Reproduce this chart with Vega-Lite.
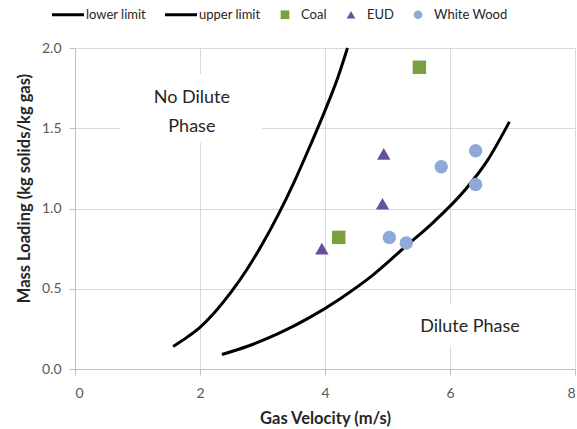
{
  "$schema": "https://vega.github.io/schema/vega-lite/v6.json",
  "autosize": "none",
  "width": 500,
  "height": 321,
  "padding": {"left": 75, "top": 48, "right": 2, "bottom": 60},
  "background": "white",
  "config": {
    "font": "Lato",
    "view": {"stroke": null},
    "axis": {
      "labelFont": "Lato", "labelFontSize": 14, "labelColor": "#595959",
      "titleFont": "Lato", "titleFontSize": 16.5, "titleFontWeight": "bold", "titleColor": "#262626",
      "domainColor": "#bfbfbf", "tickColor": "#bfbfbf", "tickSize": 6,
      "gridColor": "#d9d9d9", "gridWidth": 1
    }
  },
  "datasets": {
    "curves": [
      {"curve": "lower limit", "v": 1.57, "m": 0.14},
      {"curve": "lower limit", "v": 1.8, "m": 0.2},
      {"curve": "lower limit", "v": 2.0, "m": 0.26},
      {"curve": "lower limit", "v": 2.25, "m": 0.36},
      {"curve": "lower limit", "v": 2.5, "m": 0.48},
      {"curve": "lower limit", "v": 2.75, "m": 0.62},
      {"curve": "lower limit", "v": 3.0, "m": 0.78},
      {"curve": "lower limit", "v": 3.25, "m": 0.96},
      {"curve": "lower limit", "v": 3.5, "m": 1.16},
      {"curve": "lower limit", "v": 3.75, "m": 1.38},
      {"curve": "lower limit", "v": 4.0, "m": 1.61},
      {"curve": "lower limit", "v": 4.2, "m": 1.81},
      {"curve": "lower limit", "v": 4.36, "m": 2.0},
      {"curve": "upper limit", "v": 2.35, "m": 0.09},
      {"curve": "upper limit", "v": 2.75, "m": 0.14},
      {"curve": "upper limit", "v": 3.25, "m": 0.22},
      {"curve": "upper limit", "v": 3.75, "m": 0.32},
      {"curve": "upper limit", "v": 4.25, "m": 0.44},
      {"curve": "upper limit", "v": 4.75, "m": 0.58},
      {"curve": "upper limit", "v": 5.25, "m": 0.75},
      {"curve": "upper limit", "v": 5.75, "m": 0.92},
      {"curve": "upper limit", "v": 6.25, "m": 1.12},
      {"curve": "upper limit", "v": 6.6, "m": 1.3},
      {"curve": "upper limit", "v": 6.95, "m": 1.54}
    ],
    "points": [
      {"series": "Coal", "v": 5.51, "m": 1.88},
      {"series": "Coal", "v": 4.22, "m": 0.82},
      {"series": "EUD", "v": 3.95, "m": 0.75},
      {"series": "EUD", "v": 4.92, "m": 1.03},
      {"series": "EUD", "v": 4.94, "m": 1.34},
      {"series": "White Wood", "v": 5.03, "m": 0.82},
      {"series": "White Wood", "v": 5.3, "m": 0.785},
      {"series": "White Wood", "v": 5.86, "m": 1.26},
      {"series": "White Wood", "v": 6.41, "m": 1.36},
      {"series": "White Wood", "v": 6.41, "m": 1.15}
    ],
    "boxes": [
      {"x1": 0.72, "x2": 3.0, "y1": 1.41, "y2": 1.84},
      {"x1": 5.3, "x2": 7.3, "y1": 0.14, "y2": 0.41}
    ],
    "labels": [
      {"v": 1.87, "m": 1.69, "label": "No Dilute"},
      {"v": 1.87, "m": 1.51, "label": "Phase"},
      {"v": 6.32, "m": 0.26, "label": "Dilute Phase"}
    ]
  },
  "layer": [
    {
      "data": {"name": "boxes"},
      "mark": {"type": "rect", "fill": "white"},
      "encoding": {
        "x": {"field": "x1", "type": "quantitative", "scale": {"domain": [0, 8]},
              "axis": {"title": "Gas Velocity (m/s)", "values": [0, 2, 4, 6, 8], "format": "d", "labelPadding": 11, "titlePadding": 10}},
        "x2": {"field": "x2"},
        "y": {"field": "y1", "type": "quantitative", "scale": {"domain": [0, 2]},
              "axis": {"title": "Mass Loading (kg solids/kg gas)", "values": [0, 0.5, 1, 1.5, 2], "format": ".1f", "labelPadding": 8, "titlePadding": 9, "titleY": 140}},
        "y2": {"field": "y2"}
      }
    },
    {
      "data": {"name": "curves"},
      "mark": {"type": "line", "stroke": "black", "strokeWidth": 3, "interpolate": "monotone"},
      "encoding": {
        "x": {"field": "v", "type": "quantitative"},
        "y": {"field": "m", "type": "quantitative"},
        "detail": {"field": "curve"}
      }
    },
    {
      "data": {"name": "points"},
      "mark": {"type": "point", "filled": true, "opacity": 1, "size": 180},
      "encoding": {
        "x": {"field": "v", "type": "quantitative"},
        "y": {"field": "m", "type": "quantitative"},
        "color": {
          "field": "series", "type": "nominal",
          "scale": {"domain": ["lower limit", "upper limit", "Coal", "EUD", "White Wood"],
                    "range": ["#000000", "#000000", "#7a9f3f", "#6a4f9c", "#8eaadb"]},
          "legend": {
            "title": null, "orient": "none", "direction": "horizontal",
            "legendX": -23, "legendY": -40,
            "labelOffset": 2, "columnPadding": 12,
            "labelFont": "Lato", "labelFontSize": 13, "labelColor": "#262626",
            "symbolOpacity": 1,
            "encode": {
              "symbols": {
                "update": {
                  "shape": {"signal": "indexof(['lower limit','upper limit'], datum.value) >= 0 ? 'stroke' : datum.value === 'Coal' ? 'square' : datum.value === 'EUD' ? 'triangle-up' : 'circle'"},
                  "size": {"signal": "indexof(['lower limit','upper limit'], datum.value) >= 0 ? 1024 : 75"},
                  "stroke": {"signal": "indexof(['lower limit','upper limit'], datum.value) >= 0 ? '#000000' : 'transparent'"},
                  "strokeWidth": {"signal": "indexof(['lower limit','upper limit'], datum.value) >= 0 ? 3 : 0"},
                  "x": {"signal": "indexof(['lower limit','upper limit'], datum.value) >= 0 ? 16 : 12"}
                }
              },
              "labels": {
                "update": {
                  "x": {"signal": "indexof(['lower limit','upper limit'], datum.value) >= 0 ? 34 : 28"}
                }
              }
            }
          }
        },
        "shape": {
          "field": "series", "type": "nominal",
          "scale": {"domain": ["lower limit", "upper limit", "Coal", "EUD", "White Wood"],
                    "range": ["stroke", "stroke", "square", "triangle-up", "circle"]},
          "legend": null
        }
      }
    },
    {
      "data": {"name": "labels"},
      "mark": {"type": "text", "font": "Lato", "fontSize": 18, "color": "#262626", "baseline": "middle", "align": "center"},
      "encoding": {
        "x": {"field": "v", "type": "quantitative"},
        "y": {"field": "m", "type": "quantitative"},
        "text": {"field": "label"}
      }
    }
  ]
}
